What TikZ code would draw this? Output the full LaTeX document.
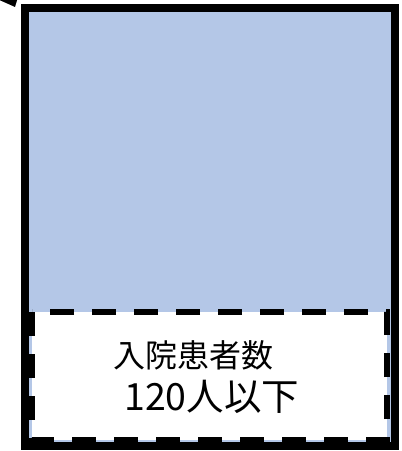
\documentclass[tikz,border=0pt]{standalone}
\usepackage{fontspec}
\newfontfamily\jpfont{Noto Sans CJK JP}
\usetikzlibrary{arrows.meta}
\definecolor{boxblue}{HTML}{B4C7E7}
\tikzset{
  outerbox/.style={draw=black, line width=8pt, fill=boxblue},
  innerbox/.style={draw=black, line width=6pt, dash pattern=on 24pt off 18pt, fill=white},
  label/.style={inner sep=0pt, anchor=west, font=\jpfont},
}
\begin{document}
\begin{tikzpicture}[x=1pt,y=-1pt]
\useasboundingbox (0,0) rectangle (402,451);
\clip (0,0) rectangle (402,451);
\draw[outerbox] (24.5,8) rectangle (394.5,446);
\draw[innerbox] (32,312) rectangle (387,440);
\node[label, font=\jpfont\fontsize{32}{34}\selectfont] (t1) at (113,355) {入院患者数};
\node[label, font=\jpfont\fontsize{37.5}{40}\selectfont] (t2) at (124,397) {120人以下};
\coordinate (a0) at (-10,-48);
\coordinate (a1) at (15,7);
\draw[line width=3pt, -{Triangle[length=14pt,width=24pt]}] (a0) -- (a1);
\end{tikzpicture}
\end{document}
